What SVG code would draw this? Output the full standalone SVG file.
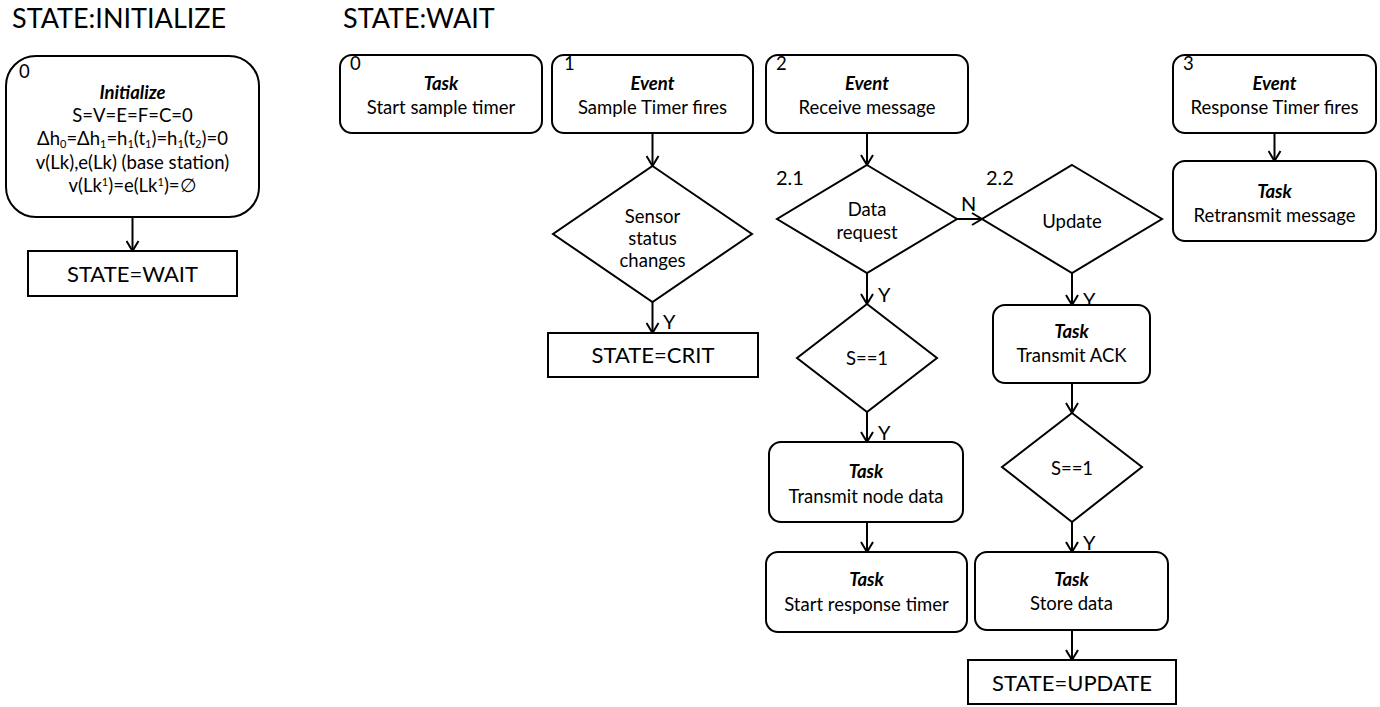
<svg xmlns="http://www.w3.org/2000/svg" width="1380" height="707" viewBox="0 0 1380 707">
<style>
text{font-family:Lato,"Open Sans",sans-serif;fill:#000}
.box{fill:#fff;stroke:#000;stroke-width:2}
.t{font-size:18.5px;text-anchor:middle}
.b{font-weight:bold;font-style:italic}
.n{font-size:18.5px}
.lbl{font-size:20px}
.title{font-size:27px}
.st{font-size:22px;text-anchor:middle}
.c{fill:none;stroke:#000;stroke-width:2;marker-end:url(#ah)}
.sb{font-size:11px}
</style>
<defs>
<marker id="ah" viewBox="0 0 12 14" refX="11" refY="7" markerWidth="12" markerHeight="14" markerUnits="userSpaceOnUse" orient="auto">
<path d="M1,1 L11,7 L1,13" fill="none" stroke="#000" stroke-width="2"/>
</marker>
</defs>
<text class="title" x="12" y="28">STATE:INITIALIZE</text>
<text class="title" x="343" y="28">STATE:WAIT</text>

<g id="connectors">
<line class="c" x1="132.5" y1="217" x2="132.5" y2="251"/>
<line class="c" x1="652.5" y1="133" x2="652.5" y2="166"/>
<line class="c" x1="652.5" y1="302" x2="652.5" y2="333"/>
<line class="c" x1="867" y1="133" x2="867" y2="165"/>
<line class="c" x1="957" y1="219" x2="982" y2="219"/>
<line class="c" x1="867" y1="273" x2="867" y2="304"/>
<line class="c" x1="867" y1="412" x2="867" y2="442"/>
<line class="c" x1="867" y1="522" x2="867" y2="552"/>
<line class="c" x1="1072" y1="273" x2="1072" y2="305"/>
<line class="c" x1="1072" y1="383" x2="1072" y2="413"/>
<line class="c" x1="1072" y1="522" x2="1072" y2="552"/>
<line class="c" x1="1072" y1="630" x2="1072" y2="660"/>
<line class="c" x1="1274.5" y1="133" x2="1274.5" y2="161"/>
<text class="lbl" x="663" y="329">Y</text>
<text class="lbl" x="961" y="211">N</text>
<text class="lbl" x="878" y="302">Y</text>
<text class="lbl" x="878" y="440">Y</text>
<text class="lbl" x="1083" y="307">Y</text>
<text class="lbl" x="1083" y="550">Y</text>
</g>

<g id="init">
<rect class="box" x="6" y="56" width="253" height="161" rx="30"/>
<text class="n" x="19" y="78">0</text>
<text class="t b" x="132.5" y="99">Initialize</text>
<text class="t" x="132.5" y="122">S=V=E=F=C=0</text>
<text class="t" x="132.5" y="145">Δh<tspan class="sb" dy="3">0</tspan><tspan dy="-3">=Δh</tspan><tspan class="sb" dy="3">1</tspan><tspan dy="-3">=h</tspan><tspan class="sb" dy="3">1</tspan><tspan dy="-3">(t</tspan><tspan class="sb" dy="3">1</tspan><tspan dy="-3">)=h</tspan><tspan class="sb" dy="3">1</tspan><tspan dy="-3">(t</tspan><tspan class="sb" dy="3">2</tspan><tspan dy="-3">)=0</tspan></text>
<text class="t" x="132.5" y="169">v(Lk),e(Lk) (base station)</text>
<text class="t" x="132.5" y="192">v(Lk<tspan class="sb" dy="-6">1</tspan><tspan dy="6">)=e(Lk</tspan><tspan class="sb" dy="-6">1</tspan><tspan dy="6">)=∅</tspan></text>
</g>
<g id="state-wait">
<rect class="box" x="28" y="251" width="209" height="45"/>
<text class="st" x="132.5" y="281.5">STATE=WAIT</text>
</g>

<g id="task0">
<rect class="box" x="340" y="55" width="202" height="78" rx="12"/>
<text class="n" x="350" y="70">0</text>
<text class="t b" x="441" y="89.5">Task</text>
<text class="t" x="441" y="113.5">Start sample timer</text>
</g>
<g id="event1">
<rect class="box" x="552" y="55" width="201" height="78" rx="12"/>
<text class="n" x="564" y="70">1</text>
<text class="t b" x="652.5" y="89.5">Event</text>
<text class="t" x="652.5" y="113.5">Sample Timer fires</text>
</g>
<g id="event2">
<rect class="box" x="766" y="55" width="202" height="78" rx="12"/>
<text class="n" x="776" y="70">2</text>
<text class="t b" x="867" y="89.5">Event</text>
<text class="t" x="867" y="113.5">Receive message</text>
</g>
<g id="event3">
<rect class="box" x="1173" y="55" width="203" height="78" rx="12"/>
<text class="n" x="1183" y="70">3</text>
<text class="t b" x="1274.5" y="89.5">Event</text>
<text class="t" x="1274.5" y="113.5">Response Timer fires</text>
</g>
<g id="retransmit">
<rect class="box" x="1173" y="161" width="203" height="80" rx="12"/>
<text class="t b" x="1274.5" y="198">Task</text>
<text class="t" x="1274.5" y="221.5">Retransmit message</text>
</g>

<g id="sensor">
<polygon class="box" points="652.5,166 752,234 652.5,302 553,234"/>
<text class="t" x="652.5" y="223">Sensor</text>
<text class="t" x="652.5" y="245">status</text>
<text class="t" x="652.5" y="267">changes</text>
</g>
<g id="state-crit">
<rect class="box" x="548" y="333" width="210" height="44"/>
<text class="st" x="653" y="362.5">STATE=CRIT</text>
</g>

<g id="data-request">
<polygon class="box" points="867,165 957,219 867,273 777,219"/>
<text class="lbl" x="776" y="185">2.1</text>
<text class="t" x="867" y="215.5">Data</text>
<text class="t" x="867" y="238.5">request</text>
</g>
<g id="s1a">
<polygon class="box" points="867,304 937,358 867,412 797,358"/>
<text class="t" x="867" y="365">S==1</text>
</g>
<g id="transmit-node-data">
<rect class="box" x="769" y="442" width="194" height="80" rx="12"/>
<text class="t b" x="866" y="478">Task</text>
<text class="t" x="866" y="502.5">Transmit node data</text>
</g>
<g id="start-response-timer">
<rect class="box" x="766" y="552" width="201" height="80" rx="12"/>
<text class="t b" x="866.5" y="586">Task</text>
<text class="t" x="866.5" y="610.5">Start response timer</text>
</g>

<g id="update">
<polygon class="box" points="1072,165 1162,219 1072,273 982,219"/>
<text class="lbl" x="986" y="185">2.2</text>
<text class="t" x="1072" y="228">Update</text>
</g>
<g id="transmit-ack">
<rect class="box" x="993" y="305" width="157" height="78" rx="12"/>
<text class="t b" x="1071.5" y="337.5">Task</text>
<text class="t" x="1071.5" y="362">Transmit ACK</text>
</g>
<g id="s1b">
<polygon class="box" points="1072,413 1142,467 1072,522 1002,467"/>
<text class="t" x="1072" y="474.5">S==1</text>
</g>
<g id="store-data">
<rect class="box" x="975" y="552" width="193" height="78" rx="12"/>
<text class="t b" x="1071.5" y="585.5">Task</text>
<text class="t" x="1071.5" y="609.5">Store data</text>
</g>
<g id="state-update">
<rect class="box" x="968" y="660" width="208" height="44"/>
<text class="st" x="1072" y="690.5">STATE=UPDATE</text>
</g>
</svg>
